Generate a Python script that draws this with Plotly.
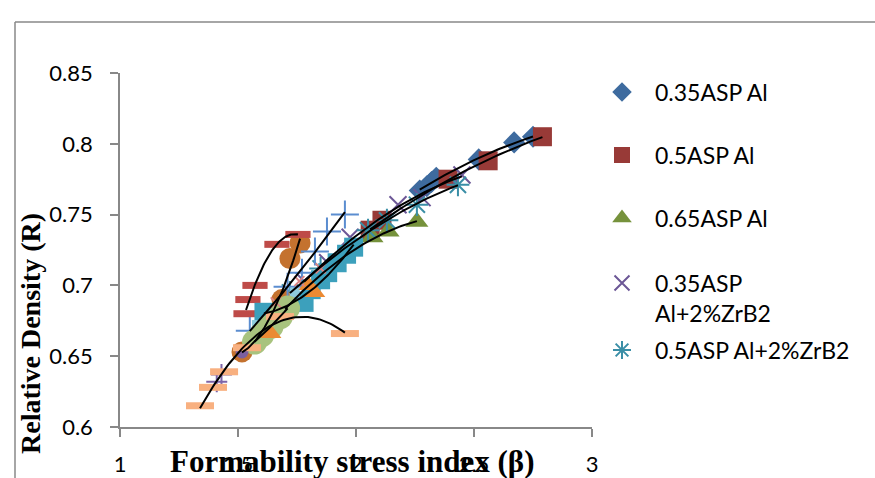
import numpy as np
import plotly.graph_objects as go

W, H = 875, 478

# ---- Relative density (R) vs formability stress index (beta) ----
asp035_al_beta = [2.27, 2.30, 2.32, 2.34, 2.52, 2.67, 2.75]
asp035_al_R = [0.767, 0.770, 0.773, 0.776, 0.789, 0.801, 0.805]

asp05_al_beta = [2.06, 2.11, 2.39, 2.56, 2.79]
asp05_al_R = [0.739, 0.746, 0.775, 0.788, 0.805]

asp065_al_beta = [1.70, 1.85, 2.068, 2.136, 2.258]
asp065_al_R = [0.684, 0.706, 0.734, 0.738, 0.745]

asp035_zr_beta = [1.78, 1.88, 1.975, 2.178, 2.28, 2.449]
asp035_zr_R = [0.703, 0.716, 0.734, 0.757, 0.762, 0.778]

asp05_zr_beta = [1.72, 1.85, 2.051, 2.131, 2.258, 2.432]
asp05_zr_R = [0.695, 0.712, 0.739, 0.746, 0.757, 0.771]

circ_beta = [1.517, 1.686, 1.72, 1.763]
circ_R = [0.653, 0.690, 0.719, 0.730]

plus_beta = [1.55, 1.71, 1.771, 1.826, 1.877, 1.953]
plus_R = [0.668, 0.699, 0.709, 0.724, 0.738, 0.750]

rdash_beta = [1.534, 1.542, 1.572, 1.665, 1.754]
rdash_R = [0.680, 0.690, 0.700, 0.729, 0.736]

tsq_beta = [1.61, 1.78, 1.81, 1.85, 1.88, 1.92, 1.96, 1.99]
tsq_R = [0.681, 0.688, 0.697, 0.704, 0.709, 0.716, 0.722, 0.727]

lsq_beta = [1.58, 1.66, 1.74]
lsq_R = [0.672, 0.680, 0.695]

gcirc_beta = [1.57, 1.60, 1.64, 1.68, 1.71]
gcirc_R = [0.660, 0.665, 0.671, 0.678, 0.684]

otri_beta = [1.64, 1.80, 1.826]
otri_R = [0.666, 0.700, 0.695]

pinkx_beta = [1.66, 1.76, 1.85]
pinkx_R = [0.688, 0.703, 0.712]

pplus_beta = [1.41, 1.43]
pplus_R = [0.632, 0.637]

pcirc_beta = [1.517]
pcirc_R = [0.653]

odash_beta = [1.339, 1.394, 1.441, 1.538, 1.678, 1.953]
odash_R = [0.615, 0.628, 0.639, 0.656, 0.678, 0.666]

legend_names = ["0.35ASP Al", "0.5ASP Al", "0.65ASP Al",
                "0.35ASP<br>Al+2%ZrB2", "0.5ASP Al+2%ZrB2"]

x_ticks = [1, 1.5, 2, 2.5, 3]
x_ticktext = ["1", "1.5", "2", "2.5", "3"]
y_ticks = [0.6, 0.65, 0.7, 0.75, 0.8, 0.85]
y_ticktext = ["0.6", "0.65", "0.7", "0.75", "0.8", "0.85"]

# series drawn bottom-to-top: (beta, R, symbol, size, color, open-line width)
series = [
    (asp035_al_beta, asp035_al_R, "diamond", 17, "#3E6B9F", 0),
    (asp05_al_beta, asp05_al_R, "square", 19, "#983A37", 0),
    (asp065_al_beta, asp065_al_R, "triangle-up", 20, "#76923C", 0),
    (asp035_zr_beta, asp035_zr_R, "x-thin", 17, "#6C5796", 2),
    (asp05_zr_beta, asp05_zr_R, "asterisk", 19, "#3A8EA6", 2),
    (circ_beta, circ_R, "circle", 21, "#C4722F", 0),
    (plus_beta, plus_R, "cross-thin", 20, "#5B8DD0", 2),
    (rdash_beta, rdash_R, "line-ew", 18, "#BE4B48", 7),
    (tsq_beta, tsq_R, "square", 19, "#3CA0BC", 0),
    (lsq_beta, lsq_R, "square", 10, "#8ECBDD", 0),
    (gcirc_beta, gcirc_R, "circle", 25, "#A8C37E", 0),
    (otri_beta, otri_R, "triangle-up", 18, "#EB8A33", 0),
    (pinkx_beta, pinkx_R, "x-thin", 10, "#DC8482", 2),
    (pplus_beta, pplus_R, "cross-thin", 15, "#7D64A8", 2),
    (pcirc_beta, pcirc_R, "circle", 13, "#7B5FA0", 0),
    (odash_beta, odash_R, "line-ew", 20, "#F8B080", 7),
]

fig = go.Figure()

for bx, ry, sym, size, col, lw in series:
    if lw:
        marker = dict(symbol=sym, size=size, color=col, line=dict(color=col, width=lw))
    else:
        marker = dict(symbol=sym, size=size, color=col, line=dict(width=0))
    fig.add_trace(go.Scatter(x=bx, y=ry, mode="markers", marker=marker,
                             showlegend=False, hoverinfo="skip", cliponaxis=False))

# second-order polynomial trendlines over each series' own beta range
trend_sets = [
    (asp035_al_beta, asp035_al_R), (asp05_al_beta, asp05_al_R),
    (asp065_al_beta, asp065_al_R), (asp035_zr_beta, asp035_zr_R),
    (asp05_zr_beta, asp05_zr_R), (circ_beta, circ_R), (plus_beta, plus_R),
    (rdash_beta, rdash_R), (tsq_beta, tsq_R), (gcirc_beta, gcirc_R),
    (odash_beta, odash_R),
]
for bx, ry in trend_sets:
    c = np.polyfit(bx, ry, 2)
    xs = np.linspace(min(bx), max(bx), 60)
    fig.add_trace(go.Scatter(x=xs, y=np.polyval(c, xs), mode="lines",
                             line=dict(color="black", width=2),
                             showlegend=False, hoverinfo="skip"))

# legend drawn on a pixel-space overlay axis
leg_rows = [92, 155, 218, 283, 350]
leg_text_y = [92, 155, 218, 298, 350]
for i in range(5):
    _, _, sym, _, col, lw = series[i]
    size = [15, 16, 17, 15, 15][i]
    if lw:
        m = dict(symbol=sym, size=size, color=col, line=dict(color=col, width=2))
    else:
        m = dict(symbol=sym, size=size, color=col, line=dict(width=0))
    fig.add_trace(go.Scatter(x=[622], y=[leg_rows[i]], xaxis="x2", yaxis="y2",
                             mode="markers", marker=m, showlegend=False,
                             hoverinfo="skip"))

annotations = []
for i, name in enumerate(legend_names):
    annotations.append(dict(x=653, y=leg_text_y[i], xref="x2", yref="y2",
                            text=name, showarrow=False, xanchor="left",
                            yanchor="middle", align="left",
                            font=dict(family="Lato", size=23, color="black")))

annotations.append(dict(x=352, y=461, xref="x2", yref="y2",
                        text="<b>Formability stress index (β)</b>", showarrow=False,
                        xanchor="center", yanchor="middle",
                        font=dict(family="Liberation Serif", size=31, color="black")))
annotations.append(dict(x=30, y=334, xref="x2", yref="y2",
                        text="<b>Relative Density (R)</b>", showarrow=False,
                        textangle=-90, xanchor="center", yanchor="middle",
                        font=dict(family="Liberation Serif", size=28, color="black")))

axis_col = "#888888"
fig.update_layout(
    width=W, height=H,
    margin=dict(l=0, r=0, t=0, b=0),
    paper_bgcolor="white", plot_bgcolor="rgba(0,0,0,0)",
    showlegend=False,
    xaxis=dict(domain=[120 / W, 592 / W], range=[1, 3], tickvals=x_ticks,
               ticktext=x_ticktext, showgrid=False, zeroline=False,
               showline=True, linecolor=axis_col, linewidth=1.5,
               ticks="outside", ticklen=8, tickcolor=axis_col, tickwidth=1.5,
               tickfont=dict(family="Lato", size=22, color="black"),
               ticklabelstandoff=9, automargin=False),
    yaxis=dict(domain=[(H - 427) / H, (H - 73) / H], range=[0.6, 0.85],
               tickvals=y_ticks, ticktext=y_ticktext, showgrid=False,
               zeroline=False, showline=True, linecolor=axis_col, linewidth=1.5,
               ticks="outside", ticklen=8, tickcolor=axis_col, tickwidth=1.5,
               tickfont=dict(family="Lato", size=22, color="black"),
               ticklabelstandoff=13, automargin=False),
    xaxis2=dict(domain=[0, 1], range=[0, W], visible=False, anchor="y2",
                fixedrange=True),
    yaxis2=dict(domain=[0, 1], range=[H, 0], visible=False, anchor="x2",
                fixedrange=True),
    annotations=annotations,
    shapes=[
        dict(type="line", xref="paper", yref="paper", x0=15 / W, x1=1,
             y0=1 - 22 / H, y1=1 - 22 / H, line=dict(color=axis_col, width=1.5)),
        dict(type="line", xref="paper", yref="paper", x0=15 / W, x1=15 / W,
             y0=0, y1=1 - 22 / H, line=dict(color=axis_col, width=1.5)),
    ],
)

fig.write_html("out.html")
